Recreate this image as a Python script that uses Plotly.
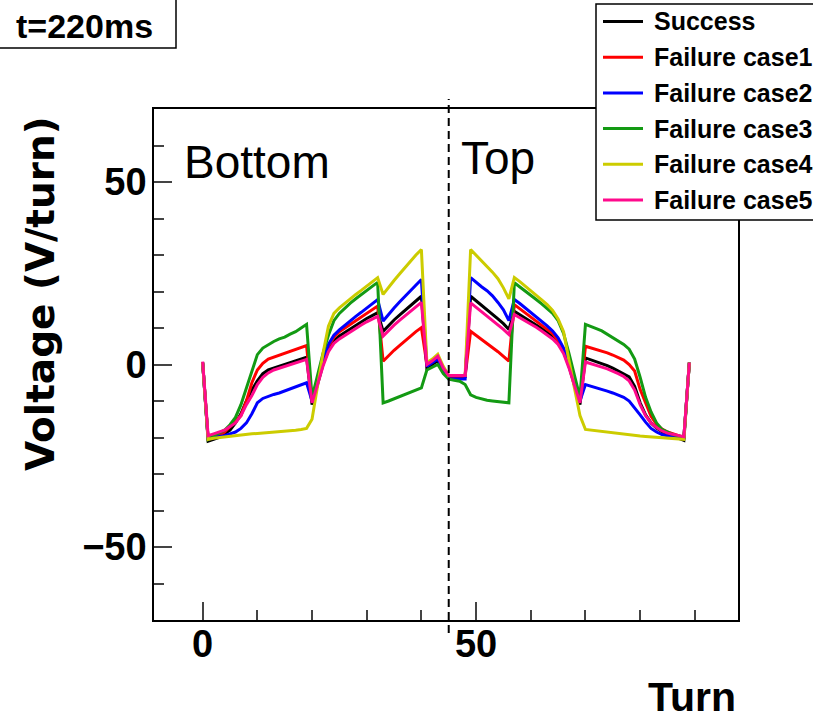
import plotly.graph_objects as go

TURNS = list(range(90))

SUCCESS = [0.5,
           -21, -20.5, -20, -19, -18, -16, -13.5, -10, -7, -4.5, -2.5, -1.5, -1, -0.5, 0, 0.5, 1, 1.5, 2,
           -11, -5.5, 0, 4, 6.5, 7.8, 8.8, 9.8, 10.8, 11.7, 12.6, 13.4, 14.2,
           9.1, 10.8, 12.2, 13.5, 14.8, 16.1, 17.4, 18.7,
           -1, 0, 1, -1.5,
           -3.3, -3.3, -3.3, -3.3,
           18.7, 17.5, 16.2, 15, 13.7, 12.5, 11.2, 9.6,
           14.6, 13.7, 12.8, 11.9, 10.9, 9.9, 8.8, 7.6, 6, 3.5, -0.5, -5.5, -11,
           1.8, 1.3, 0.8, 0.2, -0.3, -1, -1.8, -2.6, -3.4, -6, -10.5, -13.8, -16, -17.4, -18.4, -19, -19.6, -20.2, -20.8,
           0.5]

CASE1 = [0.5,
         -20.5, -20, -19.5, -18.5, -17, -15.5, -14, -10, -5, -1.5, 0.3, 1.5, 2, 2.5, 3, 3.5, 4, 4.5, 5.2,
         -10, -4.5, 1, 5, 7.5, 9, 10, 11, 12, 13, 14, 15, 16,
         0.9, 2.5, 3.9, 5.2, 6.5, 7.8, 9, 10.1,
         0, 1, 2, -1,
         -3.2, -3.2, -3.2, -3.2,
         9.1, 8, 6.9, 5.8, 4.7, 3.5, 2.2, 0.9,
         16.4, 15.3, 14.2, 13.1, 12, 10.9, 9.8, 8.5, 6.5, 4, 0.5, -4.5, -10,
         5, 4.6, 4.1, 3.7, 3.2, 2.6, 2, 1.2, 0, -1.8, -6.8, -10.5, -14.2, -16.4, -17.7, -18.5, -19, -19.4, -20,
         0.5]

CASE2 = [0.5,
         -20.5, -20, -19.8, -19.5, -19, -18.5, -17.5, -16, -13.5, -10.5, -9.3, -8.7, -8.2, -7.8, -7.2, -6.7, -6.2, -5.6, -5,
         -10, -4.5, 1, 5.5, 8, 9.5, 10.8, 12, 13.2, 14.3, 15.5, 16.6, 17.8,
         11.9, 13.8, 15.5, 17.1, 18.7, 20.3, 21.8, 23.3,
         -0.5, 0.5, 1.5, -1.5,
         -4, -4, -4, -4,
         23.8, 22.5, 21.3, 20.2, 18.8, 17, 15, 12,
         17.8, 16.7, 15.5, 14.3, 13.1, 11.9, 10.6, 9.2, 7.3, 4.5, 0.5, -4.5, -10,
         -5.5, -5.9, -6.4, -6.8, -7.3, -7.8, -8.4, -9, -10, -11.8, -13.8, -15.8, -17.5, -18.5, -19.2, -19.5, -19.7, -19.8, -20,
         0.5]

CASE3 = [0.5,
         -20.5, -19.5, -18.8, -18, -16.5, -14.5, -11, -6.5, -1.5, 2.7, 4.5, 5.5, 6.3, 7, 7.5, 8.3, 9, 10, 11,
         -9, -3, 3, 8, 12, 14, 15.5, 16.8, 18, 19.2, 20.3, 21.4, 22.5,
         -10.5, -10, -9.4, -8.8, -8.2, -7.6, -7, -6.4,
         -1.5, -0.8, 0, -2.5,
         -4, -4.3, -4.6, -5.5,
         -8.3, -9, -9.5, -9.8, -10, -10.2, -10.4, -10.5,
         22.4, 21.3, 20.2, 19, 17.8, 16.6, 15.3, 14, 12, 8.5, 3, -3, -9,
         11, 10.3, 9.8, 9.2, 8.3, 7.3, 6.4, 5.5, 4.2, 1.5, -3.5, -9, -13, -16, -17.8, -18.6, -19.2, -19.6, -20,
         0.5]

CASE4 = [0.5,
         -20.5, -20.2, -20, -19.8, -19.6, -19.5, -19.4, -19.2, -19, -18.9, -18.8, -18.7, -18.6, -18.5, -18.4, -18.2, -18, -17.8, -17.5,
         -15, -6, 3, 10.5, 14, 15.5, 16.8, 18, 19.2, 20.3, 21.5, 22.7, 23.8,
         19.2, 21.2, 23, 24.8, 26.6, 28.3, 30, 31.5,
         0.5, 1.5, 2.8, -0.5,
         -3, -3, -3, -3,
         31.5, 30, 28.5, 27, 25.3, 23.5, 21, 18,
         23.8, 22.7, 21.5, 20.3, 19, 17.7, 16.4, 14.8, 12.5, 9, 1, -6.5, -14,
         -17.8, -18, -18.2, -18.4, -18.6, -18.8, -19, -19.1, -19.3, -19.5, -19.6, -19.7, -19.8, -19.9, -20, -20.1, -20.3, -20.4, -20.5,
         0.5]

CASE5 = [0.8,
         -19.5, -19, -18.5, -18, -17, -16, -14, -11, -8.5, -5.5, -3.5, -2.3, -1.5, -1, -0.5, 0, 0.5, 1, 1.4,
         -10.5, -5.5, -0.5, 3.5, 5.8, 7, 8, 9, 10, 10.8, 11.7, 12.5, 13.2,
         7.8, 9.4, 10.8, 12.1, 13.4, 14.6, 15.8, 17,
         0, 1, 2.3, -1,
         -3, -3, -3, -3,
         16.9, 15.7, 14.5, 13.3, 12.1, 10.9, 9.6, 8.2,
         13.7, 12.8, 12, 11.1, 10.2, 9.2, 8.2, 7, 5.5, 3, -1, -5.5, -10.5,
         0.7, 0.3, -0.2, -0.7, -1.2, -1.8, -2.5, -3.3, -4.5, -7, -11, -14, -16, -17.3, -18.2, -18.8, -19.2, -19.5, -19.8,
         0.5]

SERIES_NAMES = ["Success", "Failure case1", "Failure case2", "Failure case3", "Failure case4", "Failure case5"]
SERIES_VALUES = [SUCCESS, CASE1, CASE2, CASE3, CASE4, CASE5]
COLORS = ["#000000", "#ff0000", "#0000ff", "#139a13", "#cccc00", "#ff0a8c"]

X_RANGE = [-8.9, 97.9]
Y_RANGE = [-70, 70]
MIDDLE_TURN = 45

W, H = 813, 721
ML, MR, MT, MB = 154, 75, 109, 101
PW = W - ML - MR
PH = H - MT - MB


def px(x):
    return (x - ML) / PW


def py(y):
    return (H - MB - y) / PH


BOLD = "Liberation Sans, Arial, sans-serif"
REG = "Liberation Sans, Arial, sans-serif"

fig = go.Figure()
for name, vals, col in zip(SERIES_NAMES, SERIES_VALUES, COLORS):
    fig.add_trace(go.Scatter(x=TURNS, y=vals, mode="lines", name=name,
                             line=dict(color=col, width=3), showlegend=False, hoverinfo="skip"))

shapes = []
annotations = []

# dashed divider
shapes.append(dict(type="line", xref="x", yref="paper", x0=MIDDLE_TURN, x1=MIDDLE_TURN,
                   y0=py(633), y1=py(99), line=dict(color="black", width=2, dash="8px,5px"), layer="above"))

# legend box
shapes.append(dict(type="rect", xref="paper", yref="paper", x0=px(596), x1=px(840), y0=py(220), y1=py(4),
                   fillcolor="white", line=dict(color="black", width=1.5), layer="above"))
for i, (name, col) in enumerate(zip(SERIES_NAMES, COLORS)):
    yc = 21.5 + 35.7 * i
    shapes.append(dict(type="line", xref="paper", yref="paper", x0=px(603), x1=px(643), y0=py(yc), y1=py(yc),
                       line=dict(color=col, width=3), layer="above"))
    annotations.append(dict(xref="paper", yref="paper", x=px(652), y=py(yc), text=name, showarrow=False,
                            xanchor="left", yanchor="middle",
                            font=dict(family=REG, size=25, color="black", weight="bold")))

# time box
shapes.append(dict(type="rect", xref="paper", yref="paper", x0=px(-5), x1=px(176), y0=py(48), y1=py(-5),
                   fillcolor="white", line=dict(color="black", width=1.5), layer="above"))
annotations.append(dict(xref="paper", yref="paper", x=px(14), y=py(26), text="t=220ms", showarrow=False,
                        xanchor="left", yanchor="middle",
                        font=dict(family=REG, size=34, color="black", weight="bold")))

# region labels
annotations.append(dict(xref="paper", yref="paper", x=px(182), y=py(162), text="Bottom", showarrow=False,
                        xanchor="left", yanchor="middle", font=dict(family=REG, size=46, color="black")))
annotations.append(dict(xref="paper", yref="paper", x=px(459), y=py(158), text="Top", showarrow=False,
                        xanchor="left", yanchor="middle", font=dict(family=REG, size=46, color="black")))

# axis titles
annotations.append(dict(xref="paper", yref="paper", x=px(738), y=py(697), text="Turn", showarrow=False,
                        xanchor="right", yanchor="middle",
                        font=dict(family=BOLD, size=41, color="black", weight="bold")))
annotations.append(dict(xref="paper", yref="paper", x=px(40), y=py(294), text="Voltage (V/turn)", showarrow=False,
                        xanchor="center", yanchor="middle", textangle=-90,
                        font=dict(family="DejaVu Sans, sans-serif", size=39, color="black", weight="bold")))

axis_common = dict(showline=True, linecolor="black", linewidth=1.5, mirror=True, ticks="inside",
                   tickwidth=1.5, ticklen=18, showgrid=False, zeroline=False,
                   tickfont=dict(family=BOLD, size=38, color="black", weight="bold"))

fig.update_layout(
    width=W, height=H, margin=dict(l=ML, r=MR, t=MT, b=MB), autosize=False,
    paper_bgcolor="white", plot_bgcolor="white", showlegend=False,
    xaxis=dict(range=X_RANGE, tick0=0, dtick=50, ticklabelstandoff=-10,
               minor=dict(dtick=10, ticklen=10, ticks="inside", tickwidth=1.5), **axis_common),
    yaxis=dict(range=Y_RANGE, tick0=0, dtick=50, ticklabelstandoff=-2,
               minor=dict(dtick=10, ticklen=10, ticks="inside", tickwidth=1.5), **axis_common),
    shapes=shapes, annotations=annotations,
)

fig.write_html("out.html", config={"displayModeBar": False},
               post_script="document.body.style.margin='0px';")
